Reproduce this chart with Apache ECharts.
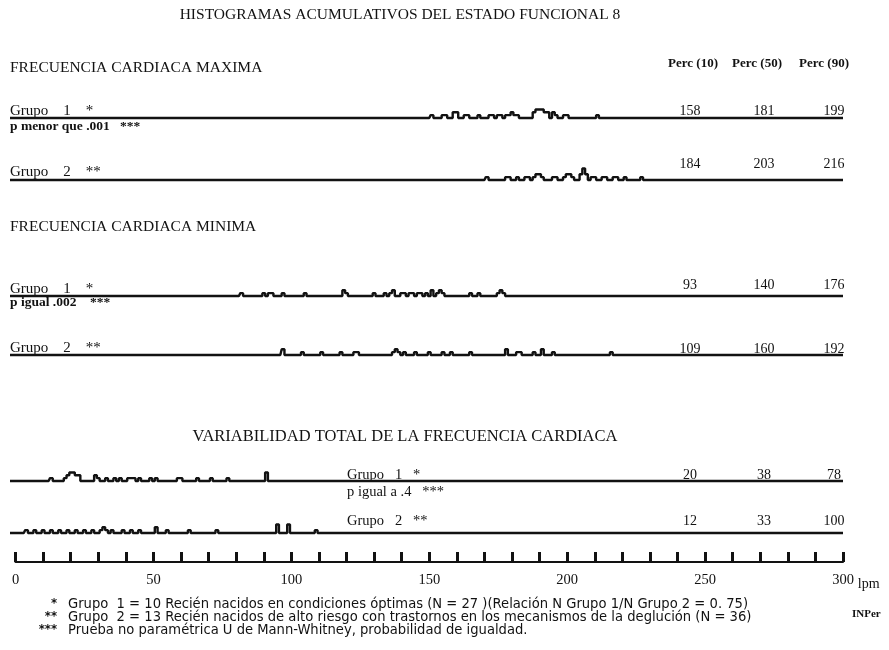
<!DOCTYPE html>
<html><head><meta charset="utf-8">
<script src="https://cdn.jsdelivr.net/npm/echarts@6/dist/echarts.min.js"></script>
<style>html,body{margin:0;padding:0;background:#fff}#c{width:889px;height:650px}</style>
</head><body><div id="c"></div>
<script>
// ---- data: [lpm, count] for non-empty bins of each cumulative histogram ----
const fcMaxG1 = [[151,1],[155,1],[156,1],[159,2],[160,2],[163,1],[164,1],[168,1],[172,1],[173,1],[175,1],[176,1],[178,1],[179,1],[180,2],[181,1],[182,1],[188,2],[189,3],[190,3],[191,3],[192,2],[193,2],[195,2],[196,1],[199,1],[200,1],[211,1]];
const fcMaxG2 = [[171,1],[178,1],[179,1],[182,1],[185,1],[186,1],[188,1],[189,2],[190,2],[191,1],[195,1],[196,1],[199,1],[200,2],[201,2],[202,1],[205,2],[206,4],[207,2],[209,1],[210,1],[213,1],[214,1],[217,1],[218,1],[221,1],[227,1]];
const fcMinG1 = [[82,1],[90,1],[92,1],[93,1],[97,1],[105,1],[119,2],[120,1],[130,1],[134,1],[136,1],[137,2],[140,1],[141,1],[143,1],[144,1],[146,1],[147,1],[149,1],[151,2],[153,1],[154,2],[155,1],[165,1],[168,1],[175,1],[176,2],[177,1]];
const fcMinG2 = [[97,2],[104,1],[111,1],[118,1],[123,1],[124,1],[137,1],[138,2],[139,1],[141,1],[145,1],[150,1],[155,1],[158,1],[165,1],[178,2],[182,1],[183,1],[188,1],[191,2],[195,1],[216,1]];
const vtG1 = [[13,1],[18,1],[19,2],[20,3],[21,3],[22,2],[23,2],[29,2],[30,1],[33,1],[36,1],[38,1],[41,1],[42,1],[43,1],[45,1],[49,1],[51,1],[59,1],[60,1],[66,1],[71,1],[77,1],[91,3]];
const vtG2 = [[4,1],[7,1],[10,1],[13,1],[16,1],[19,1],[22,1],[25,1],[28,1],[31,1],[32,2],[33,1],[35,1],[39,1],[42,1],[45,1],[51,2],[55,1],[63,1],[73,1],[95,3],[99,3],[109,1]];

// percentiles (10, 50, 90) per row
const percFcMaxG1 = [158, 181, 199];
const percFcMaxG2 = [184, 203, 216];
const percFcMinG1 = [93, 140, 176];
const percFcMinG2 = [109, 160, 192];
const percVtG1 = [20, 38, 78];
const percVtG2 = [12, 33, 100];

const axisTickLabels = [0, 50, 100, 150, 200, 250, 300];
const percHeader = ['Perc (10)', 'Perc (50)', 'Perc (90)'];

const titleText = 'HISTOGRAMAS ACUMULATIVOS DEL ESTADO FUNCIONAL 8';
const sectionTitles = ['FRECUENCIA CARDIACA MAXIMA', 'FRECUENCIA CARDIACA MINIMA', 'VARIABILIDAD TOTAL DE LA FRECUENCIA CARDIACA'];
const footnotes = [
  ['*', 'Grupo  1 = 10 Recién nacidos en condiciones óptimas (N = 27 )(Relación N Grupo 1/N Grupo 2 = 0. 75)'],
  ['**', 'Grupo  2 = 13 Recién nacidos de alto riesgo con trastornos en los mecanismos de la deglución (N = 36)'],
  ['***', 'Prueba no paramétrica U de Mann-Whitney, probabilidad de igualdad.']
];

// ---- layout ----
const rows = [
  {data: fcMaxG1, perc: percFcMaxG1, base: 118},
  {data: fcMaxG2, perc: percFcMaxG2, base: 180},
  {data: fcMinG1, perc: percFcMinG1, base: 296},
  {data: fcMinG2, perc: percFcMinG2, base: 355},
  {data: vtG1, perc: percVtG1, base: 481},
  {data: vtG2, perc: percVtG2, base: 533}
];
const percY = [111, 164, 285, 349, 475, 521];
const percX = [690, 764, 834];
const XMIN = -2, XMAX = 300;
const INK = '#121212';
const SERIF = '"Liberation Serif", "DejaVu Serif", serif';
const SANS = '"Liberation Sans Narrow", "DejaVu Sans Condensed", "Liberation Sans", sans-serif';

function fullSeries(pairs) {
  const m = {};
  pairs.forEach(p => { m[p[0]] = p[1]; });
  const out = [];
  for (let x = XMIN; x <= XMAX; x++) out.push([x, m[x] || 0]);
  return out;
}

const grid = [], xAxis = [], yAxis = [], series = [];
rows.forEach((r, i) => {
  grid.push({left: 10, width: 833, top: r.base - 20, height: 20});
  xAxis.push({gridIndex: i, type: 'value', min: XMIN, max: XMAX, show: false});
  yAxis.push({gridIndex: i, type: 'value', min: 0, max: 7, show: false});
  series.push({
    type: 'line', xAxisIndex: i, yAxisIndex: i, step: 'middle', symbol: 'none',
    data: fullSeries(r.data), lineStyle: {color: INK, width: 2.4}, silent: true, clip: false
  });
});
// ruler grid
grid.push({left: 15.5, width: 827.5, top: 540, height: 22});
xAxis.push({
  gridIndex: 6, type: 'value', min: 0, max: 300, interval: 10, position: 'bottom',
  axisLine: {show: true, lineStyle: {color: INK, width: 2}},
  axisTick: {show: true, inside: true, length: 10, lineStyle: {color: INK, width: 3}},
  splitLine: {show: false},
  axisLabel: {
    margin: 11, color: INK, fontFamily: SERIF, fontSize: 14.5,
    formatter: v => axisTickLabels.indexOf(v) >= 0 ? String(v) : ''
  },
  name: 'lpm', nameLocation: 'end', nameGap: 13,
  nameTextStyle: {color: INK, fontFamily: SERIF, fontSize: 14, align: 'left', verticalAlign: 'top', padding: [15, 0, 0, 0]}
});
yAxis.push({gridIndex: 6, type: 'value', min: 0, max: 1, show: false});

// ---- texts ----
const g = [];
function txt(x, y, text, opt) {
  opt = opt || {};
  g.push({type: 'text', x: x, y: y, silent: true, style: {
    text: text, fill: INK, fontFamily: opt.ff || SERIF, fontSize: opt.fs || 12,
    fontWeight: opt.fw || 'normal', align: opt.align || 'left', verticalAlign: 'middle'
  }});
}
txt(400, 15, titleText, {fs: 15.5, align: 'center'});
txt(10, 68, sectionTitles[0], {fs: 15.5});
txt(10, 227, sectionTitles[1], {fs: 15.5});
txt(405, 437, sectionTitles[2], {fs: 16.5, align: 'center'});
const headX = [693, 757, 824];
percHeader.forEach((h, k) => txt(headX[k], 64, h, {fs: 13, fw: 'bold', align: 'center'}));

txt(10, 111, 'Grupo    1    *', {fs: 15});
txt(10, 127, 'p menor que .001   ***', {fs: 13.5, fw: 'bold'});
txt(10, 172, 'Grupo    2    **', {fs: 15});
txt(10, 289, 'Grupo    1    *', {fs: 15});
txt(10, 303, 'p igual .002    ***', {fs: 13.5, fw: 'bold'});
txt(10, 348, 'Grupo    2    **', {fs: 15});
txt(347, 475, 'Grupo   1   *', {fs: 14.5});
txt(347, 492, 'p igual a .4   ***', {fs: 14.5});
txt(347, 521, 'Grupo   2   **', {fs: 14.5});

rows.forEach((r, i) => {
  r.perc.forEach((v, k) => txt(percX[k], percY[i], String(v), {fs: 14, align: 'center'}));
});

const fnY = [604, 617, 630];
footnotes.forEach((f, k) => {
  txt(57, fnY[k], f[0], {ff: SANS, fs: 13, align: 'right', fw: 'bold'});
  txt(68, fnY[k], f[1], {ff: SANS, fs: 14.6});
});
txt(852, 614, 'INPer', {fs: 11, fw: 'bold'});

const chart = echarts.init(document.getElementById('c'), null, {renderer: 'canvas'});
chart.setOption({
  animation: false, backgroundColor: '#fff',
  grid: grid, xAxis: xAxis, yAxis: yAxis, series: series, graphic: g
});
</script></body></html>
